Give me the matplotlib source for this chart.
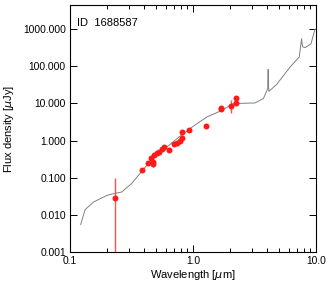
#!/usr/bin/python
# -*- encoding: UTF-8 -*-
'''SED plot: photometry + best-fit model'''

import numpy as np
import matplotlib
matplotlib.use('Agg')
import matplotlib.pyplot as plt
from matplotlib.ticker import FixedLocator, FormatStrFormatter, LogLocator, NullLocator

# observed photometry
wl = [0.232, 0.387, 0.433, 0.453, 0.473, 0.473, 0.482, 0.507, 0.53, 0.56,
      0.585, 0.64, 0.70, 0.745, 0.78, 0.82, 0.82, 0.93, 1.28, 1.69,
      1.69, 2.02, 2.24, 2.24]
flux = [0.0294, 0.159, 0.25, 0.35, 0.23, 0.27, 0.40, 0.46, 0.51, 0.58,
        0.67, 0.57, 0.80, 0.88, 0.98, 1.67, 1.20, 1.89, 2.42, 7.08,
        7.60, 8.36, 13.7, 10.1]
err_lo = [0.0293, 0.01, 0.02, 0.02, 0.03, 0.02, 0.02, 0.02, 0.02, 0.03,
          0.03, 0.03, 0.04, 0.05, 0.12, 0.08, 0.06, 0.08, 0.1, 0.3,
          0.3, 2.86, 0.6, 0.5]
err_hi = [0.0706, 0.01, 0.02, 0.02, 0.03, 0.02, 0.02, 0.02, 0.02, 0.03,
          0.03, 0.03, 0.04, 0.05, 0.12, 0.08, 0.06, 0.08, 0.1, 0.3,
          0.3, 3.64, 0.6, 0.5]

# model template
model_wl = [0.122, 0.1325, 0.155, 0.2, 0.225, 0.263, 0.316, 0.36, 0.39, 0.475,
            0.61, 0.78, 1.0, 1.29, 1.68, 2.13, 2.6, 3.19, 3.73, 4.05,
            4.08, 4.1, 4.14, 4.23, 4.79, 6.15, 7.3, 7.63, 7.7, 7.8,
            8.15, 9.1, 9.77, 10.0]
model_f = [0.0056, 0.014, 0.0224, 0.034, 0.0376, 0.0416, 0.07, 0.117, 0.16, 0.36,
           0.67, 1.3, 2.42, 4.3, 6.3, 9.9, 10.1, 10.3, 13.5, 25.0,
           82.0, 30.0, 21.0, 22.5, 32.6, 95.0, 177.0, 550.0, 400.0, 330.0,
           316.0, 400.0, 960.0, 1000.0]

plt.rcParams['font.family'] = ['Liberation Sans', 'DejaVu Sans']

#==============================================================================
def main():
    fig = plt.figure(figsize=(3.32, 2.84), dpi=100)
    ax = fig.add_axes([0.211, 0.1116, 0.741, 0.872])

    ax.plot(model_wl, model_f, color='#808080', lw=0.7)
    ax.errorbar(wl, flux, yerr=[err_lo, err_hi], fmt='o', color='#ff1a1a',
                ms=4.3, mew=0, elinewidth=1.0, capsize=1.5, capthick=1.0,
                ecolor='#ff5050')

    ax.set_xscale('log')
    ax.set_yscale('log')
    ax.set_xlim(0.1, 10.0)
    ax.set_ylim(0.001, 4500)

    ax.xaxis.set_major_locator(FixedLocator([0.1, 1.0, 10.0]))
    ax.xaxis.set_major_formatter(FormatStrFormatter('%.1f'))
    ax.xaxis.set_minor_locator(LogLocator(base=10, subs=np.arange(2, 10)))
    ax.yaxis.set_major_locator(FixedLocator([0.001, 0.01, 0.1, 1, 10, 100, 1000]))
    ax.yaxis.set_major_formatter(FormatStrFormatter('%.3f'))
    ax.yaxis.set_minor_locator(NullLocator())

    ax.tick_params(which='both', direction='in', top=True, right=True,
                   labelsize=7.4, width=0.7)
    ax.tick_params(which='major', length=5, pad=3)
    ax.tick_params(which='minor', length=3)
    for sp in ax.spines.values():
        sp.set_linewidth(0.8)

    ax.set_xlabel(u'Wavelength [$\\mu$m]', fontsize=8, labelpad=1)
    ax.set_ylabel(u'Flux density [$\\mu$Jy]', fontsize=8, labelpad=5)
    ax.text(0.028, 0.927, 'ID  1688587', transform=ax.transAxes,
            fontsize=8, va='center', ha='left')

    fig.savefig('out.png', dpi=100)
# END main

#==============================================================================
if __name__ == '__main__': main()
